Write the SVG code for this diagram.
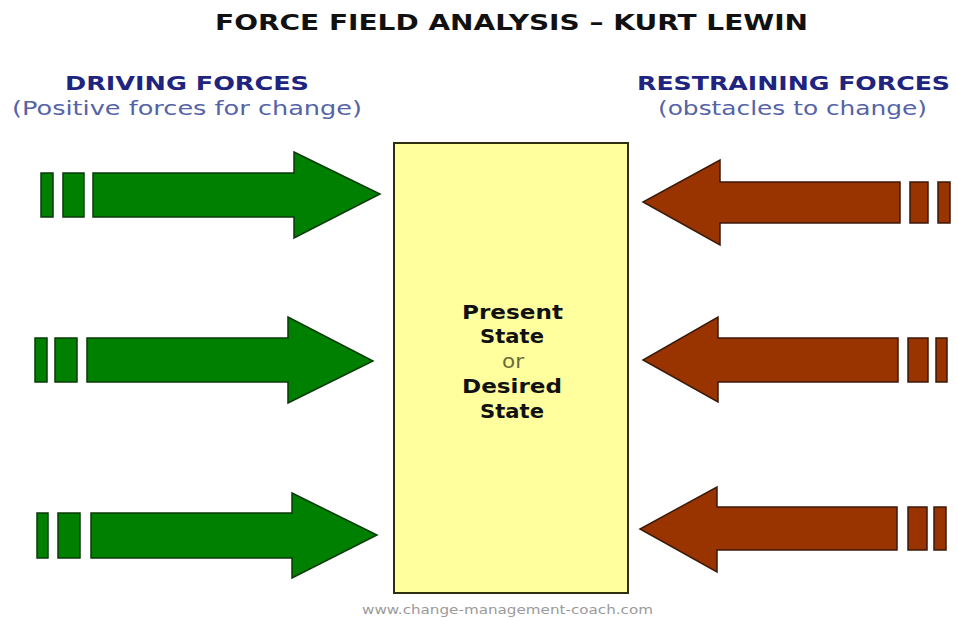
<svg xmlns="http://www.w3.org/2000/svg" width="958" height="618" viewBox="0 0 958 618">
<style>
.drive{fill:#008000;stroke:#0a3a0a;stroke-width:1.5;stroke-linejoin:miter}
.rest{fill:#993300;stroke:#3a1a0a;stroke-width:1.5;stroke-linejoin:miter}
.title{font-family:"DejaVu Sans",Verdana,sans-serif;font-weight:bold;font-size:20.5px;fill:#111}
.head{font-family:"DejaVu Sans",Verdana,sans-serif;font-weight:bold;font-size:20px;fill:#1e2480}
.sub{font-family:"DejaVu Sans",Verdana,sans-serif;font-size:20px;fill:#5563a6}
.state{font-family:"DejaVu Sans",Verdana,sans-serif;font-weight:bold;font-size:19.5px;fill:#111}
.or{font-family:"DejaVu Sans",Verdana,sans-serif;font-size:19.5px;fill:#6b6b3a}
.foot{font-family:"DejaVu Sans",Verdana,sans-serif;font-size:13px;fill:#9a9a9a}
</style>
<rect width="958" height="618" fill="#ffffff"/>
<text class="title" x="215" y="30" textLength="593" lengthAdjust="spacingAndGlyphs">FORCE FIELD ANALYSIS – KURT LEWIN</text>
<text class="head" x="65" y="90" textLength="244" lengthAdjust="spacingAndGlyphs">DRIVING FORCES</text>
<text class="sub" x="12" y="115" textLength="350" lengthAdjust="spacingAndGlyphs">(Positive forces for change)</text>
<text class="head" x="637" y="90" textLength="313" lengthAdjust="spacingAndGlyphs">RESTRAINING FORCES</text>
<text class="sub" x="658" y="115" textLength="269" lengthAdjust="spacingAndGlyphs">(obstacles to change)</text>

<g id="state-box">
<rect x="394" y="143" width="234" height="450" fill="#ffff9e" stroke="#2e2e10" stroke-width="2"/>
<text class="state" x="462" y="319" textLength="101" lengthAdjust="spacingAndGlyphs">Present</text>
<text class="state" x="480" y="343" textLength="64" lengthAdjust="spacingAndGlyphs">State</text>
<text class="or" x="502" y="368" textLength="22" lengthAdjust="spacingAndGlyphs">or</text>
<text class="state" x="462" y="393" textLength="100" lengthAdjust="spacingAndGlyphs">Desired</text>
<text class="state" x="480" y="418" textLength="64" lengthAdjust="spacingAndGlyphs">State</text>
</g>

<g id="connectors">
<g id="drive-1">
<rect class="drive" x="41" y="173" width="12" height="44"/>
<rect class="drive" x="63" y="173" width="21" height="44"/>
<polygon class="drive" points="93,173 294,173 294,152 380,194 294,238 294,217 93,217"/>
</g>
<g id="drive-2">
<rect class="drive" x="35" y="338" width="12" height="44"/>
<rect class="drive" x="55" y="338" width="22" height="44"/>
<polygon class="drive" points="87,338 288,338 288,317 373,361 288,403 288,382 87,382"/>
</g>
<g id="drive-3">
<rect class="drive" x="37" y="513" width="11" height="45"/>
<rect class="drive" x="58" y="513" width="22" height="45"/>
<polygon class="drive" points="91,513 292,513 292,493 377,535 292,578 292,558 91,558"/>
</g>
<g id="restrain-1">
<polygon class="rest" points="900,182 720,182 720,160 643,202 720,245 720,223 900,223"/>
<rect class="rest" x="910" y="182" width="18" height="41"/>
<rect class="rest" x="938" y="182" width="12" height="41"/>
</g>
<g id="restrain-2">
<polygon class="rest" points="898,338 718,338 718,317 643,360 718,402 718,382 898,382"/>
<rect class="rest" x="908" y="338" width="20" height="44"/>
<rect class="rest" x="936" y="338" width="11" height="44"/>
</g>
<g id="restrain-3">
<polygon class="rest" points="897,507 717,507 717,487 640,529 717,572 717,550 897,550"/>
<rect class="rest" x="908" y="507" width="19" height="43"/>
<rect class="rest" x="934" y="507" width="12" height="43"/>
</g>
</g>

<text class="foot" x="362" y="614" textLength="291" lengthAdjust="spacingAndGlyphs">www.change-management-coach.com</text>
</svg>
